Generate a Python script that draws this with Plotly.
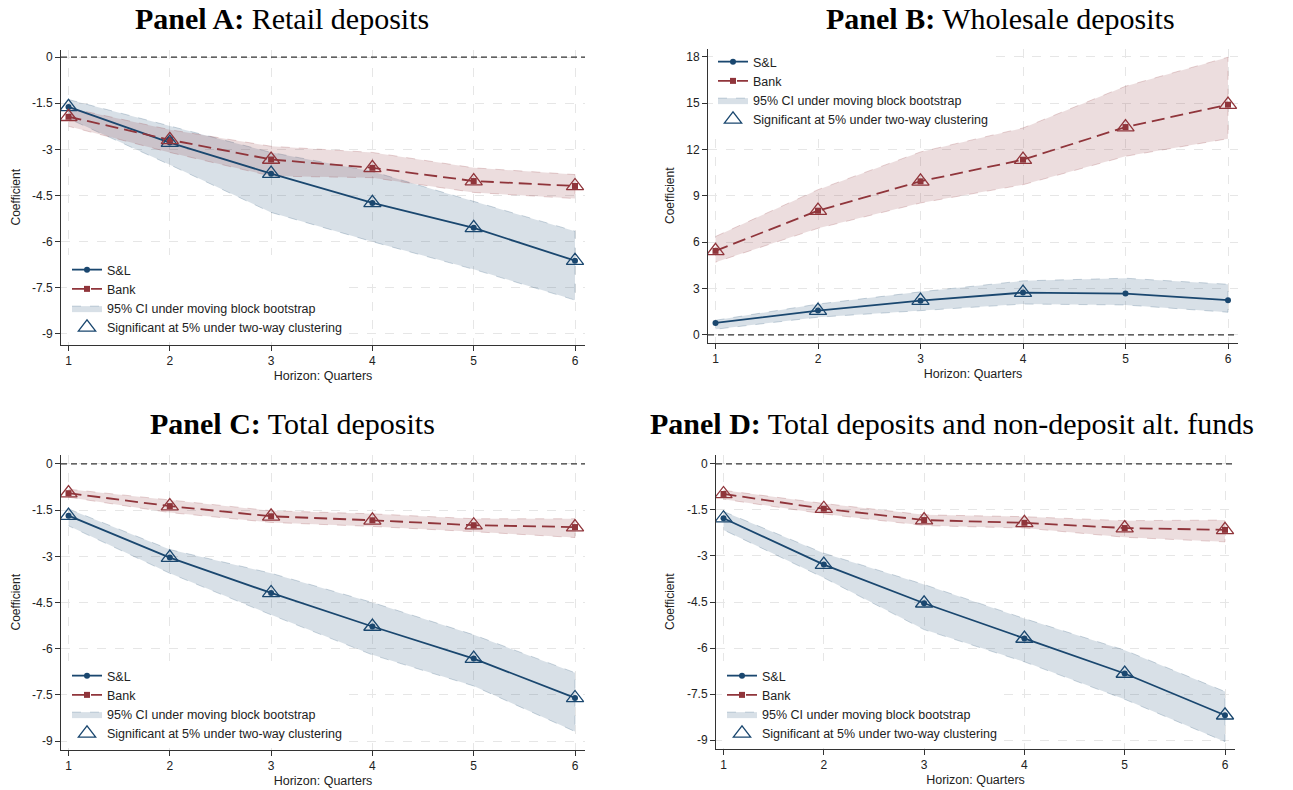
import plotly.graph_objects as go

# Horizons (quarters)
horizon = [1, 2, 3, 4, 5, 6]

# Panel A: Retail deposits
a_sl = [-1.62, -2.78, -3.79, -4.74, -5.55, -6.62]
a_sl_hi = [-1.38, -2.25, -3.10, -3.72, -4.70, -5.66]
a_sl_lo = [-2.00, -3.50, -5.05, -6.00, -6.90, -7.90]
a_bank = [-1.94, -2.69, -3.33, -3.60, -4.03, -4.19]
a_bank_hi = [-1.65, -2.36, -2.90, -3.10, -3.60, -3.82]
a_bank_lo = [-2.25, -3.10, -3.87, -3.92, -4.40, -4.60]
a_sl_sig = [1, 1, 1, 1, 1, 1]
a_bank_sig = [1, 1, 1, 1, 1, 1]

# Panel B: Wholesale deposits
b_sl = [0.78, 1.58, 2.22, 2.74, 2.68, 2.25]
b_sl_hi = [0.95, 2.00, 2.79, 3.50, 3.67, 3.28]
b_sl_lo = [0.37, 1.15, 1.58, 2.00, 1.94, 1.47]
b_bank = [5.44, 8.04, 9.94, 11.34, 13.45, 14.90]
b_bank_hi = [6.37, 9.40, 11.84, 13.39, 16.09, 17.97]
b_bank_lo = [4.71, 6.90, 8.54, 9.72, 11.56, 12.70]
b_sl_sig = [0, 1, 1, 1, 0, 0]
b_bank_sig = [1, 1, 1, 1, 1, 1]

# Panel C: Total deposits
c_sl = [-1.68, -3.04, -4.19, -5.28, -6.32, -7.60]
c_sl_hi = [-1.46, -2.78, -3.55, -4.50, -5.55, -6.78]
c_sl_lo = [-2.01, -3.55, -4.90, -6.20, -7.21, -8.69]
c_bank = [-0.95, -1.37, -1.70, -1.83, -1.99, -2.05]
c_bank_hi = [-0.82, -1.17, -1.52, -1.62, -1.78, -1.78]
c_bank_lo = [-1.08, -1.58, -1.90, -2.03, -2.20, -2.39]
c_sl_sig = [1, 1, 1, 1, 1, 1]
c_bank_sig = [1, 1, 1, 1, 1, 1]

# Panel D: Total deposits and non-deposit alternative funds
d_sl = [-1.77, -3.28, -4.54, -5.69, -6.83, -8.19]
d_sl_hi = [-1.55, -2.91, -3.93, -5.04, -6.07, -7.42]
d_sl_lo = [-2.15, -3.71, -5.40, -6.45, -7.67, -9.05]
d_bank = [-0.98, -1.46, -1.83, -1.92, -2.09, -2.15]
d_bank_hi = [-0.86, -1.29, -1.66, -1.72, -1.85, -1.83]
d_bank_lo = [-1.15, -1.63, -2.01, -2.09, -2.39, -2.54]
d_sl_sig = [1, 1, 1, 1, 1, 1]
d_bank_sig = [1, 1, 1, 1, 1, 1]

neg_ticks = [0, -1.5, -3, -4.5, -6, -7.5, -9]
neg_labels = ["0", "-1.5", "-3", "-4.5", "-6", "-7.5", "-9"]
pos_ticks = [0, 3, 6, 9, 12, 15, 18]
pos_labels = ["0", "3", "6", "9", "12", "15", "18"]

titles = [
    ("Panel A:", "Retail deposits"),
    ("Panel B:", "Wholesale deposits"),
    ("Panel C:", "Total deposits"),
    ("Panel D:", "Total deposits and non-deposit alt. funds"),
]

NAVY = "#1a476f"
MAROON = "#90353b"
SANS = "Liberation Sans, Arial, sans-serif"
SERIF = "Liberation Serif, Times New Roman, serif"

W, H = 1293, 790

panels = [
    dict(sl=a_sl, sl_hi=a_sl_hi, sl_lo=a_sl_lo, bank=a_bank, bank_hi=a_bank_hi,
         bank_lo=a_bank_lo, sl_sig=a_sl_sig, bank_sig=a_bank_sig,
         px=(61, 585), py=(50, 345), yr=(-9.36, 0.23), ticks=(neg_ticks, neg_labels),
         leg=(67, 342, "bottom"), title_xy=(282, 18), ytitle_x=15),
    dict(sl=b_sl, sl_hi=b_sl_hi, sl_lo=b_sl_lo, bank=b_bank, bank_hi=b_bank_hi,
         bank_lo=b_bank_lo, sl_sig=b_sl_sig, bank_sig=b_bank_sig,
         px=(708, 1238), py=(49, 343), yr=(-0.52, 18.5), ticks=(pos_ticks, pos_labels),
         leg=(713, 47, "top"), title_xy=(1000, 18), ytitle_x=670),
    dict(sl=c_sl, sl_hi=c_sl_hi, sl_lo=c_sl_lo, bank=c_bank, bank_hi=c_bank_hi,
         bank_lo=c_bank_lo, sl_sig=c_sl_sig, bank_sig=c_bank_sig,
         px=(61, 585), py=(455, 750), yr=(-9.29, 0.29), ticks=(neg_ticks, neg_labels),
         leg=(67, 748, "bottom"), title_xy=(292, 423), ytitle_x=15),
    dict(sl=d_sl, sl_hi=d_sl_hi, sl_lo=d_sl_lo, bank=d_bank, bank_hi=d_bank_hi,
         bank_lo=d_bank_lo, sl_sig=d_sl_sig, bank_sig=d_bank_sig,
         px=(716, 1235), py=(455, 749), yr=(-9.29, 0.29), ticks=(neg_ticks, neg_labels),
         leg=(722, 748, "bottom"), title_xy=(952, 423), ytitle_x=670),
]

fig = go.Figure()
layout = {}
annotations = []
shapes = []

for i, p in enumerate(panels):
    n = "" if i == 0 else str(i + 1)
    xa, ya = "x" + n, "y" + n
    lg = "legend" + n
    x0, x1 = p["px"]
    y0, y1 = p["py"]

    # confidence bands
    band_x = horizon + horizon[::-1]
    fig.add_trace(go.Scatter(
        x=band_x, y=p["sl_hi"] + p["sl_lo"][::-1], fill="toself",
        fillcolor="rgba(26,71,111,0.17)",
        line=dict(color="rgba(26,71,111,0.28)", width=0.8, dash="dash"),
        mode="lines", name="95% CI under moving block bootstrap",
        legend=lg, legendrank=3, xaxis=xa, yaxis=ya, hoverinfo="skip"))
    fig.add_trace(go.Scatter(
        x=band_x, y=p["bank_hi"] + p["bank_lo"][::-1], fill="toself",
        fillcolor="rgba(144,53,59,0.17)",
        line=dict(color="rgba(144,53,59,0.28)", width=0.8, dash="dash"),
        mode="lines", showlegend=False, legend=lg,
        xaxis=xa, yaxis=ya, hoverinfo="skip"))

    # point estimates
    fig.add_trace(go.Scatter(
        x=horizon, y=p["sl"], mode="lines+markers", name="S&L",
        line=dict(color=NAVY, width=1.8),
        marker=dict(symbol="circle", size=6, color=NAVY),
        legend=lg, legendrank=1, xaxis=xa, yaxis=ya))
    fig.add_trace(go.Scatter(
        x=horizon, y=p["bank"], mode="lines+markers", name="Bank",
        line=dict(color=MAROON, width=1.8, dash="13px,6px"),
        marker=dict(symbol="square", size=6, color=MAROON),
        legend=lg, legendrank=2, xaxis=xa, yaxis=ya))

    # significance markers
    sl_x = [h for h, s in zip(horizon, p["sl_sig"]) if s]
    sl_y = [v for v, s in zip(p["sl"], p["sl_sig"]) if s]
    bk_x = [h for h, s in zip(horizon, p["bank_sig"]) if s]
    bk_y = [v for v, s in zip(p["bank"], p["bank_sig"]) if s]
    fig.add_trace(go.Scatter(
        x=sl_x, y=sl_y, mode="markers",
        name="Significant at 5% under two-way clustering",
        marker=dict(symbol="triangle-up-open", size=15, color=NAVY,
                    line=dict(color=NAVY, width=1.3)),
        legend=lg, legendrank=4, xaxis=xa, yaxis=ya))
    fig.add_trace(go.Scatter(
        x=bk_x, y=bk_y, mode="markers", showlegend=False,
        marker=dict(symbol="triangle-up-open", size=15, color=MAROON,
                    line=dict(color=MAROON, width=1.3)),
        legend=lg, xaxis=xa, yaxis=ya))

    ax_common = dict(showline=True, linecolor="#333333", linewidth=1,
                     ticks="outside", ticklen=5, tickcolor="#333333",
                     tickfont=dict(family=SANS, size=12, color="#222222"),
                     showgrid=True, gridcolor="#e6e6e6", griddash="dash",
                     gridwidth=1, zeroline=False, mirror=False)

    # x range follows the axis span around horizons 1..6
    tick_px_1 = x0 + 7.5
    tick_px_6 = x1 - 10
    per = (tick_px_6 - tick_px_1) / 5
    layout["xaxis" + n] = dict(
        ax_common, domain=[x0 / W, x1 / W],
        range=[1 - (tick_px_1 - x0) / per, 6 + (x1 - tick_px_6) / per],
        anchor=ya, tickvals=horizon, ticktext=[str(h) for h in horizon],
        title=dict(text="Horizon: Quarters", standoff=3,
                   font=dict(family=SANS, size=12.5, color="#222222")))
    layout["yaxis" + n] = dict(
        ax_common, domain=[1 - y1 / H, 1 - y0 / H], range=list(p["yr"]),
        anchor=xa, tickvals=p["ticks"][0], ticktext=p["ticks"][1])

    # y-axis title, rotated, left of the tick labels
    annotations.append(dict(text="Coefficient", xref="paper", yref="paper",
                            x=p["ytitle_x"] / W, y=1 - (y0 + y1) / 2 / H,
                            xanchor="center", yanchor="middle", textangle=-90,
                            showarrow=False,
                            font=dict(family=SANS, size=12, color="#222222")))

    lx, ly, lanchor = p["leg"]
    layout[lg] = dict(x=lx / W, y=1 - ly / H, xanchor="left", yanchor=lanchor,
                      bgcolor="white", borderwidth=0,
                      font=dict(family=SANS, size=12.5, color="#222222"),
                      tracegroupgap=0)

    # zero reference line
    shapes.append(dict(type="line", xref=xa + " domain", yref=ya,
                       x0=0, x1=1, y0=0, y1=0,
                       line=dict(color="#333333", width=1.3, dash="6px,4px")))

    bold, rest = titles[i]
    tx, ty = p["title_xy"]
    annotations.append(dict(text="<b>" + bold + "</b> " + rest, xref="paper", yref="paper",
                            x=tx / W, y=1 - ty / H, xanchor="center", yanchor="middle",
                            showarrow=False, font=dict(family=SERIF, size=30, color="black")))

fig.update_layout(width=W, height=H, margin=dict(l=0, r=0, t=0, b=0),
                  paper_bgcolor="white", plot_bgcolor="white",
                  annotations=annotations, shapes=shapes, **layout)

fig.write_html("out.html")
